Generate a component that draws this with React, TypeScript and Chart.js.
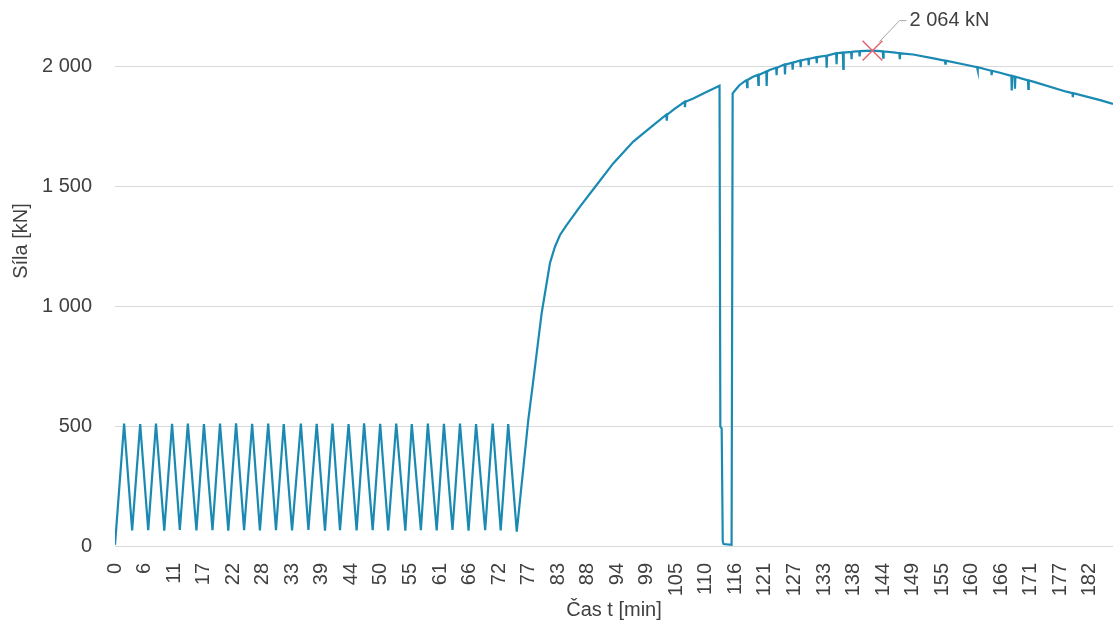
import { useEffect, useRef } from 'react';
import { Chart, registerables } from 'chart.js';

Chart.register(...registerables);

// ---- data ----
const cycleTime = [
  0,
  1.7, 3.2, 4.7, 6.2, 7.65, 9.2, 10.65, 12.1, 13.6, 15.2,
  16.6, 18.2, 19.6, 21.15, 22.6, 24.1, 25.6, 27.05, 28.6, 30.05,
  31.5, 33.05, 34.7, 36.1, 37.65, 39.2, 40.6, 42.0, 43.6, 45.1,
  46.5, 48.1, 49.5, 51.0, 52.5, 54.2, 55.4, 57.1, 58.4, 60.05,
  61.4, 63.0, 64.4, 66.0, 67.4, 69.1, 70.5, 72.0, 73.4, 75.0,
];
const cycleForce = [
  5,
  510, 65, 508, 66, 510, 64, 509, 67, 510, 65,
  508, 66, 510, 64, 511, 66, 509, 65, 510, 66,
  508, 65, 510, 67, 509, 64, 510, 66, 508, 65,
  511, 66, 509, 65, 510, 64, 508, 66, 510, 65,
  509, 67, 510, 64, 508, 66, 510, 65, 508, 60,
];

const loadTime = [
  77.15, 78.1, 79.65, 80.27, 81.2, 82.13, 83.07, 84.3, 86.8, 89.9,
  93.0, 96.75, 100.5, 104.2, 107.95, 110.5, 112.85, 113.0, 113.25, 113.45,
  113.6, 115.1, 115.3, 116.0, 116.6, 117.8, 119.1, 122.2, 125.3, 128.4,
  131.6, 134.7, 137.8, 141.4, 145.3, 149.0, 152.8, 159.0, 165.2, 171.4,
  177.6, 183.9, 186.3,
];
const loadForce = [
  525, 692, 971, 1054, 1179, 1247, 1296, 1337, 1414, 1504,
  1594, 1685, 1754, 1817, 1865, 1893, 1918, 497, 490, 20,
  8, 5, 1886, 1905, 1921, 1940, 1955, 1983, 2007, 2025,
  2039, 2053, 2060, 2064, 2057, 2048, 2032, 2004, 1972, 1935,
  1893, 1858, 1842,
];

// short downward noise spikes: time, level around it, bottom of the spike
const spikeTime = [103.0, 106.4, 118.0, 120.1, 121.65, 123.5, 125.07, 126.5, 128.0, 129.5, 131.0, 132.85, 134.7, 135.95, 137.5, 139.0, 143.4, 146.5, 155.0, 161.0, 163.65, 167.4, 168.0, 170.5, 178.8];
const spikeBase = [1797, 1851, 1942, 1963, 1977, 1993, 2007, 2014, 2023, 2030, 2037, 2043, 2053, 2056, 2059, 2062, 2061, 2053, 2022, 1995, 1980, 1959, 1955, 1940, 1887];
const spikeDip = [1772, 1828, 1912, 1921, 1917, 1962, 1965, 1985, 1995, 2003, 2012, 1993, 2007, 1988, 2028, 2040, 2035, 2028, 2010, 1983, 1962, 1898, 1905, 1905, 1870];

const peakTime = 141.4;
const peakForce = 2064;
const peakLabel = '2\u00a0064 kN';

const xTickLabels = ['0', '6', '11', '17', '22', '28', '33', '39', '44', '50', '55', '61', '66', '72', '77', '83', '88', '94', '99', '105', '110', '116', '121', '127', '133', '138', '144', '149', '155', '160', '166', '171', '177', '182'];
const xLastTickValue = 182;
const yTickValues = [0, 500, 1000, 1500, 2000];
const xAxisTitle = 'Čas t [min]';
const yAxisTitle = 'Síla [kN]';

const FONT = '"Liberation Sans", Arial, sans-serif';
const TEXT = '#404040';
const LINE = '#1a8ab3';

function fmtThousands(v: number): string {
  return String(v).replace(/\B(?=(\d{3})+(?!\d))/g, '\u00a0');
}

const notePlugin = {
  id: 'peakNote',
  afterDatasetsDraw(chart: any) {
    const { ctx, scales } = chart;
    const px = scales.x.getPixelForValue(peakTime);
    const py = scales.y.getPixelForValue(peakForce);
    ctx.save();
    ctx.strokeStyle = '#a6a6a6';
    ctx.lineWidth = 1;
    ctx.beginPath();
    ctx.moveTo(px + 7, py - 9);
    ctx.lineTo(px + 27, py - 30);
    ctx.lineTo(px + 34, py - 30);
    ctx.stroke();
    ctx.font = '20px ' + FONT;
    ctx.fillStyle = TEXT;
    ctx.textBaseline = 'middle';
    ctx.textAlign = 'left';
    ctx.fillText(peakLabel, px + 37, py - 30);
    ctx.translate(21, 241);
    ctx.rotate(-Math.PI / 2);
    ctx.textAlign = 'center';
    ctx.fillText(yAxisTitle, 0, 0);
    ctx.restore();
  },
};

export default function App() {
  const ref = useRef<HTMLCanvasElement | null>(null);

  useEffect(() => {
    if (!ref.current) return;
    const mainPts = [
      ...cycleTime.map((t, i) => ({ x: t, y: cycleForce[i] })),
      ...loadTime.map((t, i) => ({ x: t, y: loadForce[i] })),
    ];
    const spikePts = spikeTime.flatMap((t, i) => [
      { x: t - 0.08, y: spikeBase[i] },
      { x: t, y: spikeDip[i] },
      { x: t + 0.08, y: spikeBase[i] },
    ]);
    const pts = [...mainPts, ...spikePts].sort((a, b) => a.x - b.x);

    const chart = new Chart(ref.current, {
      type: 'line',
      data: {
        datasets: [
          {
            data: [{ x: peakTime, y: peakForce }],
            showLine: false,
            pointStyle: 'crossRot',
            pointRadius: 14,
            pointBorderColor: '#e8636f',
            pointBorderWidth: 1.5,
            order: 0,
          } as any,
          {
            data: pts,
            borderColor: LINE,
            borderWidth: 2.2,
            pointRadius: 0,
            tension: 0,
            fill: false,
            order: 1,
          },
        ],
      },
      options: {
        animation: false,
        responsive: true,
        maintainAspectRatio: false,
        parsing: false as any,
        layout: { autoPadding: false, padding: { top: 18, right: 0, left: 0, bottom: 0 } },
        plugins: { legend: { display: false }, tooltip: { enabled: false } },
        scales: {
          x: {
            type: 'linear',
            min: 0,
            max: 186.3,
            grid: { display: false, drawTicks: false },
            border: { display: false },
            afterBuildTicks: (scale: any) => {
              scale.ticks = xTickLabels.map((_, i) => ({ value: (i * xLastTickValue) / (xTickLabels.length - 1) }));
            },
            afterFit: (scale: any) => {
              scale.height = 86;
              scale.paddingLeft = 0;
              scale.paddingRight = 0;
            },
            ticks: {
              autoSkip: false,
              minRotation: 90,
              maxRotation: 90,
              padding: 17,
              color: TEXT,
              font: { family: FONT, size: 20 },
              callback: (_v: any, i: number) => xTickLabels[i],
            },
            title: {
              display: true,
              text: xAxisTitle,
              color: TEXT,
              font: { family: FONT, size: 20 },
              padding: { top: 0, bottom: 10 },
            },
          },
          y: {
            type: 'linear',
            min: 0,
            max: 2200,
            grid: { color: '#d9d9d9', lineWidth: 1, drawTicks: false },
            border: { display: false },
            afterBuildTicks: (scale: any) => {
              scale.ticks = yTickValues.map((v) => ({ value: v }));
            },
            afterFit: (scale: any) => {
              scale.width = 115;
              scale.paddingTop = 0;
              scale.paddingBottom = 0;
            },
            ticks: {
              padding: 23,
              color: TEXT,
              font: { family: FONT, size: 20 },
              callback: (v: any) => fmtThousands(Number(v)),
            },
          },
        },
      },
      plugins: [notePlugin],
    });
    return () => chart.destroy();
  }, []);

  return (
    <div style={{ position: 'fixed', left: 0, top: 0, width: 1113, height: 632, background: '#fff' }}>
      <canvas ref={ref} />
    </div>
  );
}
